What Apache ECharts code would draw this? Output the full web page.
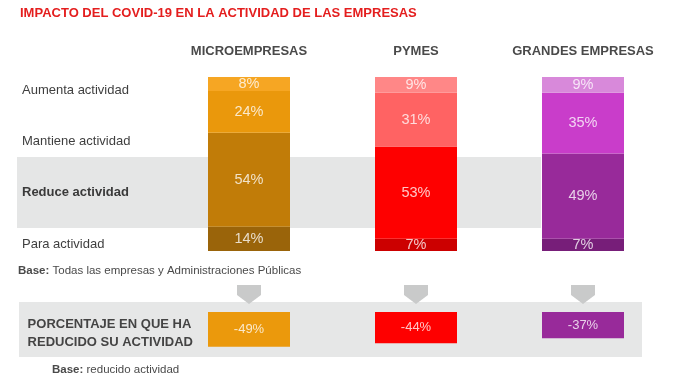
<!DOCTYPE html>
<html>
<head>
<meta charset="utf-8">
<script src="https://cdn.jsdelivr.net/npm/echarts@6/dist/echarts.min.js"></script>
<style>
html,body{margin:0;padding:0;background:#fff;}
#chart{width:680px;height:374px;}
</style>
</head>
<body>
<div id="chart"></div>
<script>
const categories = ['MICROEMPRESAS', 'PYMES', 'GRANDES EMPRESAS'];
const rowLabels = ['Aumenta actividad', 'Mantiene actividad', 'Reduce actividad', 'Para actividad'];
const aumenta = [8, 9, 9];
const mantiene = [24, 31, 35];
const reduce = [54, 53, 49];
const para = [14, 7, 7];
const reduccion = [-49, -44, -37];

const palette = {
  aumenta: ['#f6a623', '#ff8787', '#d889da'],
  mantiene: ['#ea980c', '#ff6363', '#c93dca'],
  reduce: ['#c17c08', '#fe0000', '#982a9a'],
  para: ['#9a640a', '#cc0000', '#771e79'],
  box: ['#eb990c', '#fe0000', '#982a9a']
};

const FONT = '"Liberation Sans", Arial, sans-serif';
const labelColor = 'rgba(255,255,255,0.78)';

function stackSeries(name, values, colors) {
  return {
    name: name, type: 'bar', stack: 'total', xAxisIndex: 0, yAxisIndex: 0,
    barWidth: 82,
    data: values.map((v, i) => ({ value: v, itemStyle: { color: colors[i] } })),
    label: {
      show: true, position: 'inside', formatter: '{c}%',
      color: labelColor, fontFamily: FONT, fontSize: 14.5
    },
    z: 3
  };
}

const chart = echarts.init(document.getElementById('chart'), null, { renderer: 'canvas' });

const option = {
  backgroundColor: '#ffffff',
  animation: false,
  title: {
    text: 'IMPACTO DEL COVID-19 EN LA ACTIVIDAD DE LAS EMPRESAS',
    left: 20, top: 7, padding: 0,
    textStyle: { color: '#e41e1e', fontFamily: FONT, fontWeight: 'bold', fontSize: 13 }
  },
  grid: [
    { left: 165.5, right: 13.5, top: 77, height: 174 },
    { left: 165.5, right: 13.5, top: 312, height: 35.5 }
  ],
  xAxis: [
    {
      gridIndex: 0, type: 'category', data: categories, position: 'top',
      axisLine: { show: false }, axisTick: { show: false },
      axisLabel: { interval: 0, margin: 19, color: '#4a4a4a', fontFamily: FONT, fontWeight: 'bold', fontSize: 13 }
    },
    {
      gridIndex: 1, type: 'category', data: categories,
      axisLine: { show: false }, axisTick: { show: false }, axisLabel: { show: false }
    }
  ],
  yAxis: [
    { gridIndex: 0, type: 'value', min: 0, max: 100, show: false },
    { gridIndex: 1, type: 'value', min: -50, max: 0, show: false }
  ],
  graphic: [
    { type: 'rect', shape: { x: 17, y: 157, width: 524, height: 71 }, style: { fill: '#e5e6e6' }, z: 0 },
    { type: 'rect', shape: { x: 19, y: 302, width: 623, height: 55 }, style: { fill: '#e6e7e7' }, z: 0 },
    ...[249, 416, 583].map(cx => ({
      type: 'polygon', z: 1,
      shape: { points: [[cx - 12, 285], [cx + 12, 285], [cx + 12, 295], [cx, 304], [cx - 12, 295]] },
      style: { fill: '#c9caca' }
    })),
    { type: 'text', left: 22, top: 84, z: 5, style: { text: rowLabels[0], fill: '#3f3f3f', font: '13px ' + FONT } },
    { type: 'text', left: 22, top: 135, z: 5, style: { text: rowLabels[1], fill: '#3f3f3f', font: '13px ' + FONT } },
    { type: 'text', left: 22, top: 186, z: 5, style: { text: rowLabels[2], fill: '#3a3a3a', font: 'bold 13px ' + FONT } },
    { type: 'text', left: 22, top: 238, z: 5, style: { text: rowLabels[3], fill: '#3f3f3f', font: '13px ' + FONT } },
    {
      type: 'text', left: 18, top: 265, z: 5,
      style: { text: '{b|Base:} Todas las empresas y Administraciones Públicas', fill: '#4a4a4a', font: '11.5px ' + FONT,
        rich: { b: { fontWeight: 'bold', fontSize: 11.5, fontFamily: FONT, fill: '#4a4a4a' } } }
    },
    {
      type: 'text', left: 52, top: 364, z: 5,
      style: { text: '{b|Base:} reducido actividad', fill: '#4a4a4a', font: '11.5px ' + FONT,
        rich: { b: { fontWeight: 'bold', fontSize: 11.5, fontFamily: FONT, fill: '#4a4a4a' } } }
    },
    {
      type: 'text', right: 680 - 193, top: 315, z: 5,
      style: { text: 'PORCENTAJE EN QUE HA\nREDUCIDO SU ACTIVIDAD', fill: '#444444', font: 'bold 13px ' + FONT,
        align: 'right', lineHeight: 18 }
    }
  ],
  series: [
    stackSeries('Para actividad', para, palette.para),
    stackSeries('Reduce actividad', reduce, palette.reduce),
    stackSeries('Mantiene actividad', mantiene, palette.mantiene),
    stackSeries('Aumenta actividad', aumenta, palette.aumenta),
    {
      name: 'Reducción', type: 'bar', xAxisIndex: 1, yAxisIndex: 1, barWidth: 82, z: 3,
      data: reduccion.map((v, i) => ({ value: v, itemStyle: { color: palette.box[i] } })),
      label: { show: true, position: 'inside', formatter: '{c}%', color: labelColor, fontFamily: FONT, fontSize: 13 }
    }
  ]
};
chart.setOption(option);
</script>
</body>
</html>
